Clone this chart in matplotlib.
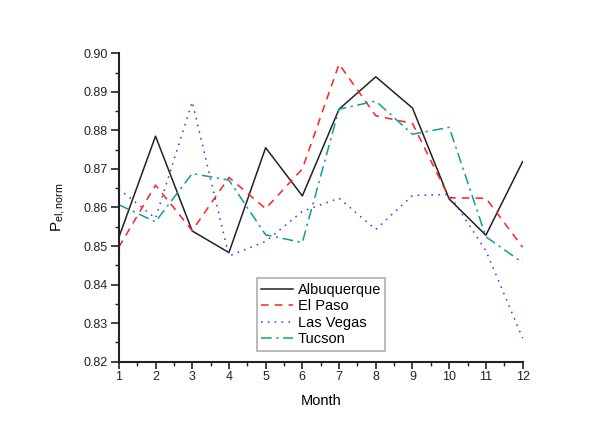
import matplotlib
matplotlib.use("Agg")
import matplotlib.pyplot as plt
from matplotlib.ticker import MultipleLocator

plt.rcParams['font.family'] = ['Liberation Sans', 'DejaVu Sans']
plt.rcParams['mathtext.default'] = 'regular'

months = list(range(1, 13))
albuquerque = [0.8522, 0.8785, 0.8539, 0.8483, 0.8755, 0.8630, 0.8855, 0.8939, 0.8858, 0.8622, 0.8528, 0.8719]
el_paso = [0.8497, 0.8658, 0.8540, 0.8678, 0.8597, 0.8700, 0.8972, 0.8838, 0.8818, 0.8625, 0.8624, 0.8497]
las_vegas = [0.8648, 0.8572, 0.8874, 0.8474, 0.8512, 0.8590, 0.8624, 0.8543, 0.8631, 0.8634, 0.8488, 0.8261]
tucson = [0.8607, 0.8563, 0.8688, 0.8671, 0.8529, 0.8509, 0.8855, 0.8876, 0.8790, 0.8808, 0.8524, 0.8457]

fig = plt.figure(figsize=(6.0, 4.28), dpi=100)
ax = fig.add_axes([0.198, 0.155, 0.673, 0.7205])

ax.plot(months, albuquerque, color='#222222', lw=1.1, ls='-', label='Albuquerque')
ax.plot(months, el_paso, color='#ff2020', lw=1.1, ls=(0, (5, 4)), label='El Paso')
ax.plot(months, las_vegas, color='#3030ff', lw=1.1, ls=(0, (1, 3.5)), label='Las Vegas')
ax.plot(months, tucson, color='#169a92', lw=1.1, ls=(0, (7, 3, 1.5, 3)), label='Tucson')

ax.set_xlim(1, 12)
ax.set_ylim(0.82, 0.90)
ax.xaxis.set_major_locator(MultipleLocator(1))
ax.xaxis.set_minor_locator(MultipleLocator(0.5))
ax.yaxis.set_major_locator(MultipleLocator(0.01))
ax.yaxis.set_minor_locator(MultipleLocator(0.005))
ax.yaxis.set_major_formatter(matplotlib.ticker.FormatStrFormatter('%.2f'))

for side in ('top', 'right'):
    ax.spines[side].set_visible(False)
for side in ('left', 'bottom'):
    ax.spines[side].set_linewidth(1.5)
    ax.spines[side].set_color('#222222')

ax.tick_params(which='major', direction='out', length=5, width=1.2, labelsize=9,
               colors='#222222', pad=2)
ax.tick_params(which='minor', direction='out', length=3, width=1.0, colors='#222222')
ax.tick_params(axis='y', which='major', length=6)

ax.set_xlabel('Month', fontsize=10.5, labelpad=8)
ax.set_ylabel(r'P$_{el,norm}$', fontsize=11, labelpad=12)

leg = ax.legend(loc='lower left', bbox_to_anchor=(0.342, 0.035), fontsize=10.5,
                frameon=True, fancybox=False, handlelength=2.2, handletextpad=0.3,
                borderpad=0.3, labelspacing=0.18, borderaxespad=0)
leg.get_frame().set_edgecolor('#999999')
leg.get_frame().set_linewidth(1.2)

fig.savefig('out.png', dpi=100)
